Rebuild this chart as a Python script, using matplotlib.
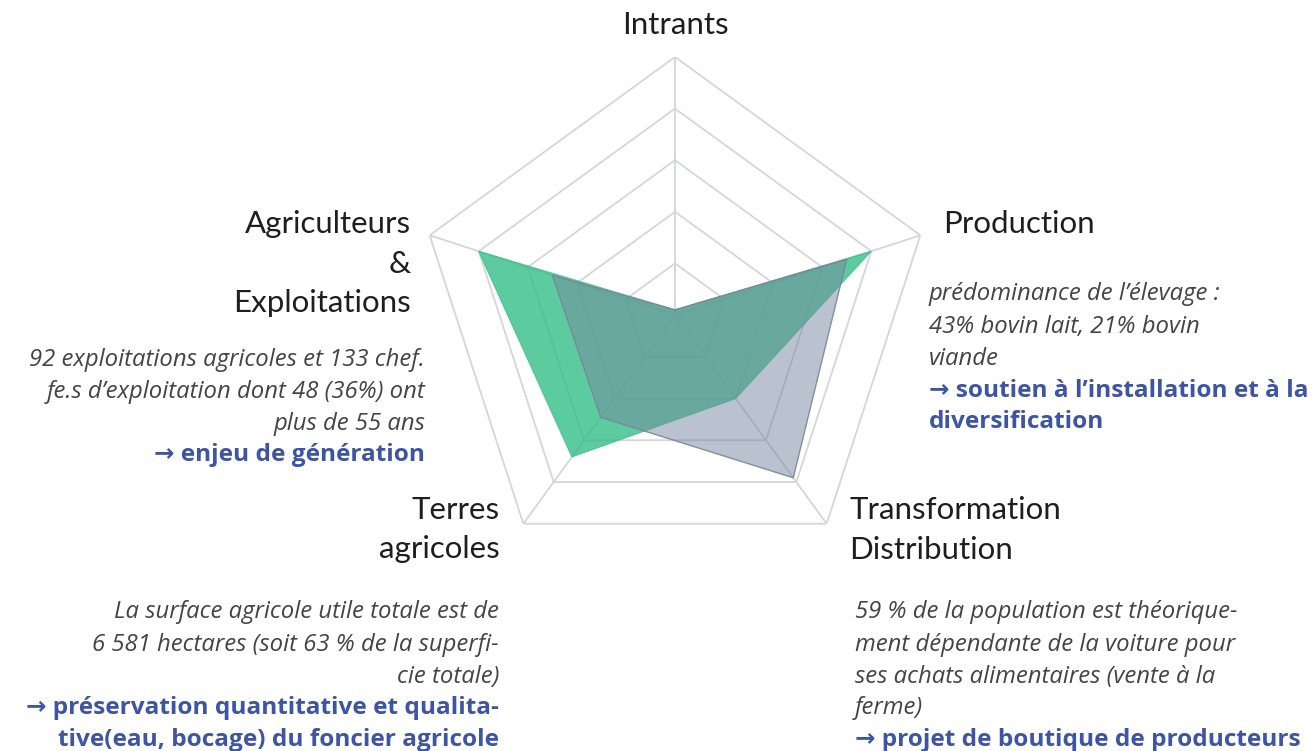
import numpy as np
import matplotlib
matplotlib.use("Agg")
import matplotlib.pyplot as plt

# ---- data ----
categories = ["Intrants", "Production", "Transformation\nDistribution",
              "Terres\nagricoles", "Agriculteurs\n&\nExploitations"]
green_values = [2, 80, 40, 68, 80]
grey_values = [2, 70, 78, 49, 50]
grid_levels = [20, 40, 60, 80, 100]

W, H = 1315, 751
fig = plt.figure(figsize=(W / 100, H / 100), dpi=100)
fig.patch.set_facecolor("white")

cx, cy, R = 675, 315, 258
ax = fig.add_axes([(cx - R) / W, (H - cy - R) / H, 2 * R / W, 2 * R / H],
                  projection="polar")
ax.set_theta_offset(np.pi / 2)
ax.set_theta_direction(-1)
ax.set_ylim(0, 100)
ax.grid(False)
ax.set_xticks([])
ax.set_yticks([])
ax.spines["polar"].set_visible(False)
ax.patch.set_alpha(0)

n = len(categories)
angles = np.linspace(0, 2 * np.pi, n, endpoint=False)
closed = np.concatenate([angles, angles[:1]])

grid_color = "#d4d6da"
for lv in grid_levels:
    ax.plot(closed, [lv] * (n + 1), color=grid_color, lw=1.3, zorder=1)
for a in angles:
    ax.plot([a, a], [0, grid_levels[-1]], color=grid_color, lw=1.3, zorder=1)

g = np.array(green_values + green_values[:1])
b = np.array(grey_values + grey_values[:1])
ax.fill(closed, g, color="#33be88", alpha=0.8, lw=0, zorder=2)
ax.plot(closed, g, color="#3fbf8c", lw=0.8, alpha=0.8, zorder=2)
ax.fill(closed, b, color="#75879f", alpha=0.5, lw=0, zorder=3)
ax.plot(closed, b, color="#7a8698", lw=1.0, alpha=0.9, zorder=3)


def T(x, y, s, **kw):
    fig.text(x / W, 1 - y / H, s, **kw)


lab = dict(family=["Lato", "DejaVu Sans"], fontsize=22.5, color="#1e1e1e",
           va="baseline")
T(675, 34, "Intrants", ha="center", **lab)
T(943, 233, "Production", ha="left", **lab)
T(411, 233, "Agriculteurs", ha="right", **lab)
T(411, 273, "&", ha="right", **lab)
T(411, 312, "Exploitations", ha="right", **lab)
T(500, 519, "Terres", ha="right", **lab)
T(500, 558, "agricoles", ha="right", **lab)
T(849, 519, "Transformation", ha="left", **lab)
T(849, 559, "Distribution", ha="left", **lab)

it = dict(family=["Open Sans", "DejaVu Sans"], style="italic", fontsize=17.2,
          color="#444444", va="baseline")
bl = dict(family=["Open Sans", "DejaVu Sans"], weight="bold", fontsize=17.6,
          color="#3e55a5", va="baseline")

# Agriculteurs note
T(425, 366, "92 exploitations agricoles et 133 chef.", ha="right", **it)
T(425, 398, "fe.s d\u2019exploitation dont 48 (36%) ont", ha="right", **it)
T(425, 430, "plus de 55 ans", ha="right", **it)
T(425, 461, "\u2192 enjeu de génération", ha="right", **bl)

# Production note
T(929, 300, "prédominance de l\u2019élevage :", ha="left", **it)
T(929, 333, "43% bovin lait, 21% bovin", ha="left", **it)
T(929, 365, "viande", ha="left", **it)
T(929, 397, "\u2192 soutien à l\u2019installation et à la", ha="left", **bl)
T(929, 428, "diversification", ha="left", **bl)

# Terres note
T(499, 618, "La surface agricole utile totale est de", ha="right", **it)
T(499, 651, "6 581 hectares (soit 63 % de la superfi-", ha="right", **it)
T(499, 683, "cie totale)", ha="right", **it)
T(499, 714, "\u2192 préservation quantitative et qualita-", ha="right", **bl)
T(499, 746, "tive(eau, bocage) du foncier agricole", ha="right", **bl)

# Transformation note
T(855, 618, "59 % de la population est théorique-", ha="left", **it)
T(855, 651, "ment dépendante de la voiture pour", ha="left", **it)
T(855, 683, "ses achats alimentaires (vente à la", ha="left", **it)
T(855, 714, "ferme)", ha="left", **it)
T(855, 746, "\u2192 projet de boutique de producteurs", ha="left", **bl)

fig.savefig("out.png", dpi=100, facecolor="white")
